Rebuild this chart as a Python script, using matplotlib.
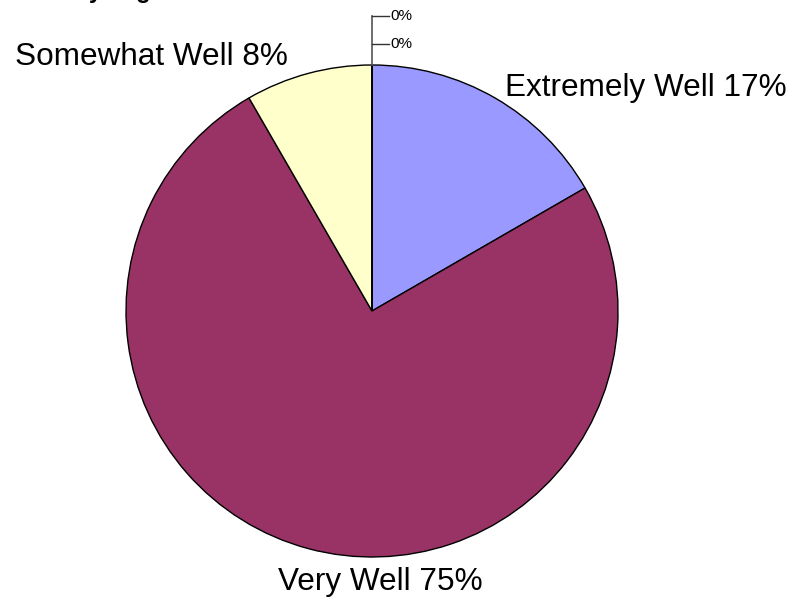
import numpy as np
import matplotlib.pyplot as plt

# responses (counts), slice order as drawn clockwise from 12 o'clock
labels = ['Extremely Well', 'Very Well', 'Somewhat Well', 'Not Very Well', 'Not At All Well']
counts = [2, 9, 1, 0, 0]
colors = ['#9999FF', '#993366', '#FFFFCC', '#FFFFFF', '#FFFFFF']

W, H = 794, 601
plt.rcParams['font.family'] = ['Liberation Sans', 'DejaVu Sans']
fig = plt.figure(figsize=(W / 100, H / 100), dpi=100)
ax = fig.add_axes([0, 0, 1, 1])

cx, cy, r = 372, H - 311, 246
ax.pie(counts, colors=colors, startangle=90, counterclock=False,
       center=(cx, cy), radius=r, frame=True,
       wedgeprops=dict(edgecolor='black', linewidth=1))

pct = [round(100 * c / sum(counts)) for c in counts]

# big labels
fs = 22.7
ax.text(505, H - 96, f'{labels[0]} {pct[0]}%', fontsize=fs, ha='left', va='baseline')
ax.text(380, H - 590, f'{labels[1]} {pct[1]}%', fontsize=fs, ha='center', va='baseline')
ax.text(288, H - 65, f'{labels[2]} {pct[2]}%', fontsize=fs, ha='right', va='baseline')

# zero slices with leader lines
top = cy + r
ax.plot([cx, cx], [top, H - 16], color='#555555', lw=1.2)
for yy, p in zip([H - 16, H - 44], pct[3:]):
    ax.plot([cx, cx + 17], [yy, yy], color='#333333', lw=1)
    ax.text(cx + 18, yy, f'{p}%', fontsize=11, ha='left', va='center')

# title clipped by the top edge in the original
ax.text(10, H + 2, 'Rate my degree overall', fontsize=17, fontweight='bold',
        ha='left', va='baseline')

ax.set_xlim(0, W)
ax.set_ylim(0, H)
ax.set_aspect('auto')
ax.axis('off')

fig.savefig('out.png', dpi=100)
